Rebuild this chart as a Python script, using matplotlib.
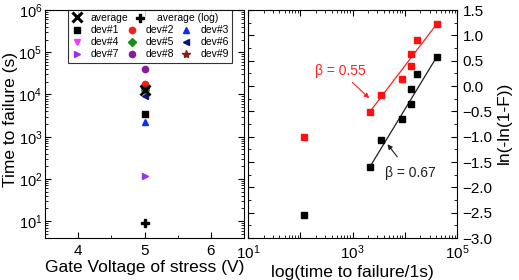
import matplotlib
matplotlib.use("Agg")
import matplotlib.pyplot as plt
from matplotlib.lines import Line2D
from matplotlib.ticker import MultipleLocator, LogLocator, NullFormatter, FixedLocator

plt.rcParams['font.family'] = ['Liberation Sans', 'DejaVu Sans']
plt.rcParams['mathtext.fontset'] = 'custom'
plt.rcParams['mathtext.rm'] = 'Liberation Sans'
plt.rcParams['mathtext.it'] = 'Liberation Sans:italic'

# ---- left panel data ----
stress_v = 5
avg_lin = 1.3e4
avg_log = 9.3
dev_names = ['dev#1', 'dev#2', 'dev#3', 'dev#4', 'dev#5', 'dev#6', 'dev#7', 'dev#8', 'dev#9']
dev_ttf = [3.5e3, 1.8e4, 2.2e3, 1.3e4, 1.3e4, 9.0e3, 1.2e2, 4.0e4, 1.35e4]
dev_markers = ['s', 'o', '^', 'v', 'D', '<', '>', 'o', '*']
dev_colors = ['black', '#ff1a1a', '#0a2cff', '#ff33ff', '#1a8c1a', '#10107a', '#9a30f0', '#8a1a9a', '#8b1a1a']

# ---- right panel data (Weibull) ----
ttf_s = [117, 2140, 3470, 8900, 12900, 12900, 17400, 40700]
weib_red = [-1.0, -0.51, -0.17, 0.13, 0.39, 0.64, 0.90, 1.22]
weib_black = [-2.55, -1.6, -1.06, -0.66, -0.35, -0.05, 0.24, 0.57]
fit_x = [2140, 40700]
fit_red = [-0.51, 1.22]
fit_black = [-1.6, 0.57]

W, H = 519, 280
fig = plt.figure(figsize=(W / 100, H / 100), dpi=100)
axL = fig.add_axes([45 / W, 1 - 238 / H, (244 - 45) / W, (238 - 10) / H])
axR = fig.add_axes([248 / W, 1 - 238 / H, (457 - 248) / W, (238 - 10) / H])

LABEL_FS = 12.5
TICK_FS = 11

# left panel
axL.plot([stress_v], [avg_log], linestyle='none', marker='P', color='black', ms=6)
handles = {}
for name, val, mk, col in zip(dev_names, dev_ttf, dev_markers, dev_colors):
    ms = 6 if mk == '*' else 4.5
    h, = axL.plot([stress_v], [val], linestyle='none', marker=mk, color=col, ms=ms, label=name)
    handles[name] = h
axL.plot([stress_v], [avg_lin], linestyle='none', marker='x', color='black', ms=7, mew=2)

hx_leg = Line2D([], [], linestyle='none', marker='x', color='black', ms=7, mew=2.2)
blank1 = Line2D([], [], linestyle='none', marker='none')
blank2 = Line2D([], [], linestyle='none', marker='none')
order = [hx_leg, handles['dev#1'], handles['dev#4'], handles['dev#7'],
         blank1, handles['dev#2'], handles['dev#5'], handles['dev#8'],
         blank2, handles['dev#3'], handles['dev#6'], handles['dev#9']]
labels = ['', 'dev#1', 'dev#4', 'dev#7',
          '', 'dev#2', 'dev#5', 'dev#8',
          '', 'dev#3', 'dev#6', 'dev#9']
LEG_FS = 7.5
HL, HTP = 1.0, 0.85
leg = axL.legend(order, labels, ncol=3, loc='upper center', bbox_to_anchor=(0.529, 1.0),
                 fontsize=LEG_FS, frameon=True, fancybox=False, edgecolor='black',
                 handlelength=HL, handletextpad=HTP, columnspacing=0.68,
                 labelspacing=0.2, borderpad=0.3, borderaxespad=0.0)
leg.get_frame().set_linewidth(0.8)

axL.set_yscale('log')
axL.set_xlim(3.5, 6.5)
axL.set_ylim(4, 1e6)
axL.xaxis.set_major_locator(FixedLocator([4, 5, 6]))
axL.xaxis.set_minor_locator(MultipleLocator(0.5))
axL.set_yticks([10, 1e2, 1e3, 1e4, 1e5, 1e6])
axL.yaxis.set_minor_locator(LogLocator(base=10, subs=range(2, 10), numticks=20))
axL.yaxis.set_minor_formatter(NullFormatter())
axL.tick_params(which='both', direction='in', top=True, right=True, labelsize=TICK_FS, pad=4)
axL.tick_params(axis='y', which='both', labelsize=10.5, pad=2)
axL.tick_params(which='major', length=4)
axL.tick_params(which='minor', length=2)
axL.set_xlabel('Gate Voltage of stress (V)', fontsize=LABEL_FS, labelpad=2)
axL.set_ylabel('Time to failure (s)', fontsize=LABEL_FS)
axL.yaxis.set_label_coords((18 - 45) / 199, (238 - 120) / 228)

# right panel
axR.plot(fit_x, fit_red, color='#ff2020', lw=0.9)
axR.plot(fit_x, fit_black, color='#202020', lw=0.9)
axR.plot(ttf_s, weib_red, linestyle='none', marker='s', color='#ff1010', ms=4.5)
axR.plot(ttf_s, weib_black, linestyle='none', marker='s', color='black', ms=4.5)
axR.set_xscale('log')
axR.set_xlim(10, 1e5)
axR.set_ylim(-3.0, 1.5)
axR.set_xticks([10, 1e2, 1e3, 1e4, 1e5])
axR.set_xticklabels(['$10^1$', '', '$10^3$', '', '$10^5$'])
axR.xaxis.set_minor_locator(LogLocator(base=10, subs=range(2, 10), numticks=20))
axR.xaxis.set_minor_formatter(NullFormatter())
axR.yaxis.set_major_locator(MultipleLocator(0.5))
axR.yaxis.set_minor_locator(MultipleLocator(0.25))
axR.yaxis.tick_right()
axR.yaxis.set_label_position('right')
axR.tick_params(which='both', direction='in', top=True, left=True, right=True, labelsize=TICK_FS, pad=4)
axR.tick_params(which='major', length=4)
axR.tick_params(which='minor', length=2)
axR.set_xlabel('log(time to failure/1s)', fontsize=LABEL_FS, labelpad=2)
axR.set_ylabel('ln(-ln(1-F))', fontsize=LABEL_FS)
axR.yaxis.set_label_coords((497 - 248) / 209, (238 - 122.5) / 228)

axR.annotate('β = 0.55', xy=(2090, -0.24), xytext=(575, 0.30), color='#ff2020', fontsize=10,
             ha='center', va='center',
             arrowprops=dict(arrowstyle='-|>', color='#ff2020', lw=0.8, mutation_scale=7, shrinkA=2, shrinkB=0))
axR.annotate('β = 0.67', xy=(4680, -1.15), xytext=(12600, -1.72), color='#202020', fontsize=10,
             ha='center', va='center',
             arrowprops=dict(arrowstyle='-|>', color='#202020', lw=0.8, mutation_scale=7, shrinkA=6, shrinkB=0))

# overlay first legend row ("average", "average (log)") which spans columns
fig.canvas.draw()
texts = leg.get_texts()
fs_px = LEG_FS * 100 / 72
bb_r2 = texts[1].get_window_extent()
bb_r3 = texts[2].get_window_extent()
pitch = bb_r2.y0 - bb_r3.y0
row1_y0 = bb_r2.y0 + pitch
row1_yc = row1_y0 + bb_r2.height / 2
col1_tx = bb_r2.x0
col2_tx = texts[5].get_window_extent().x0
col2_mx = col2_tx - (HTP + HL / 2) * fs_px
fig.text(col1_tx / W, row1_y0 / H, 'average', fontsize=LEG_FS, ha='left', va='bottom', zorder=10)
fig.add_artist(Line2D([(col2_mx + 8) / W], [row1_yc / H], transform=fig.transFigure, linestyle='none',
                      marker='P', color='black', ms=6, zorder=10))
fig.text((col2_tx + 11) / W, row1_y0 / H, 'average (log)', fontsize=LEG_FS, ha='left', va='bottom', zorder=10)

fig.savefig('out.png', dpi=100)
